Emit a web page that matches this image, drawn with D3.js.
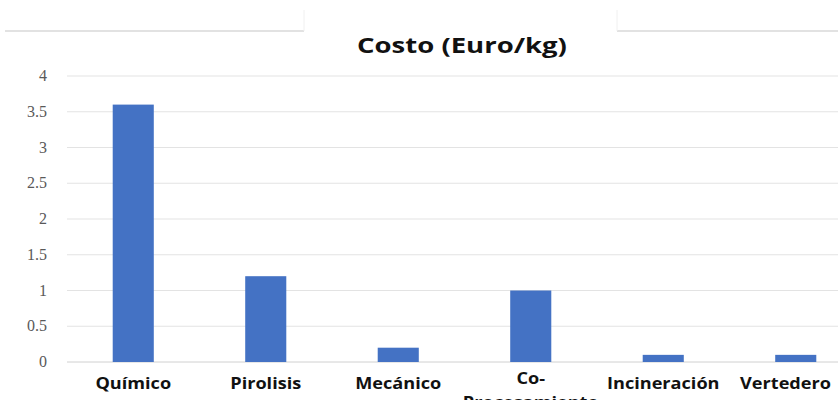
<!DOCTYPE html>
<html lang="en">
<head>
<meta charset="UTF-8">
<script src="https://cdnjs.cloudflare.com/ajax/libs/d3/7.8.5/d3.min.js"></script>
<style>
  body { margin: 0; background: #fff; }
  svg { display: block; }
</style>
</head>
<body>
<svg id="chart" width="838" height="400"></svg>
<script>
const categories = [["Químico"], ["Pirolisis"], ["Mecánico"], ["Co-", "Procesamiento"], ["Incineración"], ["Vertedero"]];
const costs = [3.6, 1.2, 0.2, 1.0, 0.1, 0.1];
const yTicks = [0, 0.5, 1, 1.5, 2, 2.5, 3, 3.5, 4];
const title = "Costo (Euro/kg)";

const svg = d3.select("#chart");
const W = 838, H = 400;
const plotLeft = 67, plotTop = 76, plotBottom = 362;
const stretch = 1.17;

// frame lines at the top
svg.append("line").attr("x1", 5).attr("x2", 304).attr("y1", 31).attr("y2", 31)
  .attr("stroke", "#d9d9d9").attr("stroke-width", 1.5);
svg.append("line").attr("x1", 617).attr("x2", 838).attr("y1", 31).attr("y2", 31)
  .attr("stroke", "#d9d9d9").attr("stroke-width", 1.5);
svg.append("line").attr("x1", 304).attr("x2", 304).attr("y1", 10).attr("y2", 31)
  .attr("stroke", "#f0f0f0");
svg.append("line").attr("x1", 617).attr("x2", 617).attr("y1", 10).attr("y2", 31)
  .attr("stroke", "#f0f0f0");

const names = categories.map(c => c.join(" "));
const x = d3.scaleBand().domain(names).range([plotLeft, plotLeft + 6 * 132.5]).paddingInner(0.69).paddingOuter(0.345);
const y = d3.scaleLinear().domain([0, 4]).range([plotBottom, plotTop]);

// gridlines
svg.append("g").selectAll("line").data(yTicks).join("line")
  .attr("x1", plotLeft).attr("x2", W)
  .attr("y1", d => y(d)).attr("y2", d => y(d))
  .attr("stroke", d => d === 0 ? "#d0d0d0" : "#e3e3e3").attr("stroke-width", 1);

// y labels
svg.append("g").selectAll("text").data(yTicks).join("text")
  .attr("x", 47).attr("y", d => y(d) + 5)
  .attr("text-anchor", "end")
  .attr("font-family", "'Liberation Serif', serif")
  .attr("font-size", 16).attr("fill", "#595959")
  .text(d => d);

// bars
svg.append("g").selectAll("rect").data(costs).join("rect")
  .attr("x", (d, i) => x(names[i]))
  .attr("width", x.bandwidth())
  .attr("y", d => y(d))
  .attr("height", d => y(0) - y(d))
  .attr("fill", "#4472c4");

// category labels (slightly stretched like the source image)
const lab = svg.append("g").selectAll("text").data(categories).join("text")
  .attr("text-anchor", "middle")
  .attr("font-family", "'Open Sans', sans-serif")
  .attr("font-weight", "bold")
  .attr("font-size", 15.5).attr("fill", "#111");
lab.selectAll("tspan").data(d => d).join("tspan")
  .attr("x", 0)
  .attr("dy", (d, i) => i === 0 ? 0 : 24)
  .text(d => d);
// keep the last label inside the right edge, as the original does
lab.attr("transform", function(d, i) {
  let cx = x(names[i]) + x.bandwidth() / 2;
  const half = this.getBBox().width * stretch / 2;
  if (cx + half > W - 7) cx = W - 7 - half;
  return `translate(${cx},${d.length > 1 ? 384 : 389}) scale(${stretch},1)`;
});

// title
svg.append("text")
  .attr("transform", "translate(462,53) scale(1.25,1)")
  .attr("text-anchor", "middle")
  .attr("font-family", "'Open Sans', sans-serif")
  .attr("font-weight", "bold").attr("font-size", 22).attr("fill", "#111")
  .text(title);
</script>
</body>
</html>
